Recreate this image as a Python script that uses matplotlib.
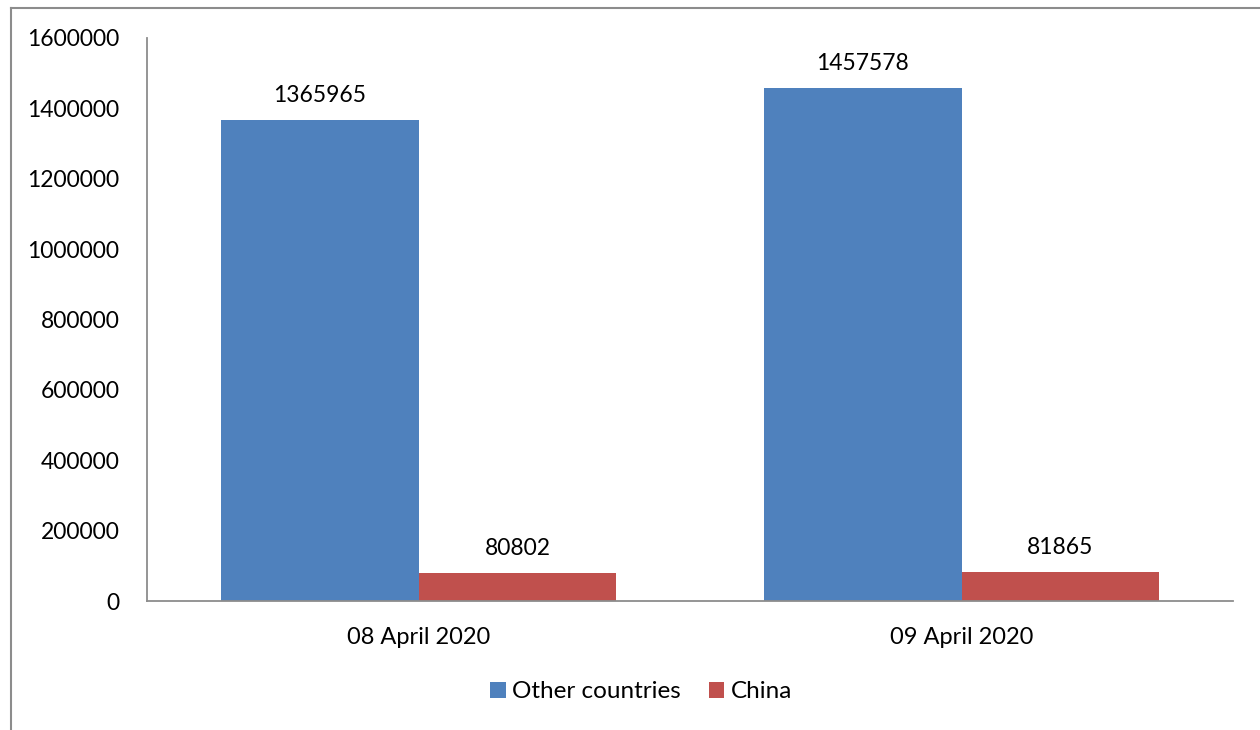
import numpy as np
import matplotlib
matplotlib.use('Agg')
import matplotlib.pyplot as plt
from matplotlib.lines import Line2D

plt.rcParams['font.family'] = ['Lato', 'DejaVu Sans']

# Confirmed cases by date
dates = ['08 April 2020', '09 April 2020']
other_countries = [1365965, 1457578]
china = [80802, 81865]
series_names = ['Other countries', 'China']
colors = ['#4F81BD', '#C0504D']

fig = plt.figure(figsize=(12.6, 7.3), dpi=100)
ax = fig.add_axes([0.1167, 0.1767, 0.862, 0.7713])

x = np.arange(len(dates))
w = 0.364
bars1 = ax.bar(x - w / 2, other_countries, w, color=colors[0], label=series_names[0])
bars2 = ax.bar(x + w / 2, china, w, color=colors[1], label=series_names[1])

for bars in (bars1, bars2):
    for b in bars:
        ax.annotate(str(int(b.get_height())), (b.get_x() + b.get_width() / 2, b.get_height()),
                    xytext=(0, 10), textcoords='offset points', ha='center', va='bottom',
                    fontsize=16.5, color='black')

ax.set_xlim(-0.5, 1.5)
ax.set_ylim(0, 1600000)
ax.set_yticks(np.arange(0, 1600001, 200000))
ax.set_yticklabels([str(v) for v in range(0, 1600001, 200000)])
ax.set_xticks(x)
ax.set_xticklabels(dates, fontsize=17)
ax.tick_params(axis='both', length=0, colors='black')
ax.tick_params(axis='y', pad=20, labelsize=16.5)
ax.tick_params(axis='x', pad=19)

for s in ['top', 'right']:
    ax.spines[s].set_visible(False)
for s in ['left', 'bottom']:
    ax.spines[s].set_color('#8C8C8C')
    ax.spines[s].set_linewidth(1.3)

ax.legend(loc='center', bbox_to_anchor=(641 / 1260, 38 / 730), bbox_transform=fig.transFigure,
          ncol=2, frameon=False, fontsize=17.5, handlelength=0.65, handleheight=0.65,
          handletextpad=0.25, columnspacing=1.15)

# outer chart frame (left and top edges)
fig.add_artist(Line2D([11 / 1260, 11 / 1260], [0, 1 - 8 / 730], transform=fig.transFigure,
                      color='#8C8C8C', lw=1.5))
fig.add_artist(Line2D([11 / 1260, 1], [1 - 8 / 730, 1 - 8 / 730], transform=fig.transFigure,
                      color='#8C8C8C', lw=1.5))

fig.savefig('out.png', dpi=100)
